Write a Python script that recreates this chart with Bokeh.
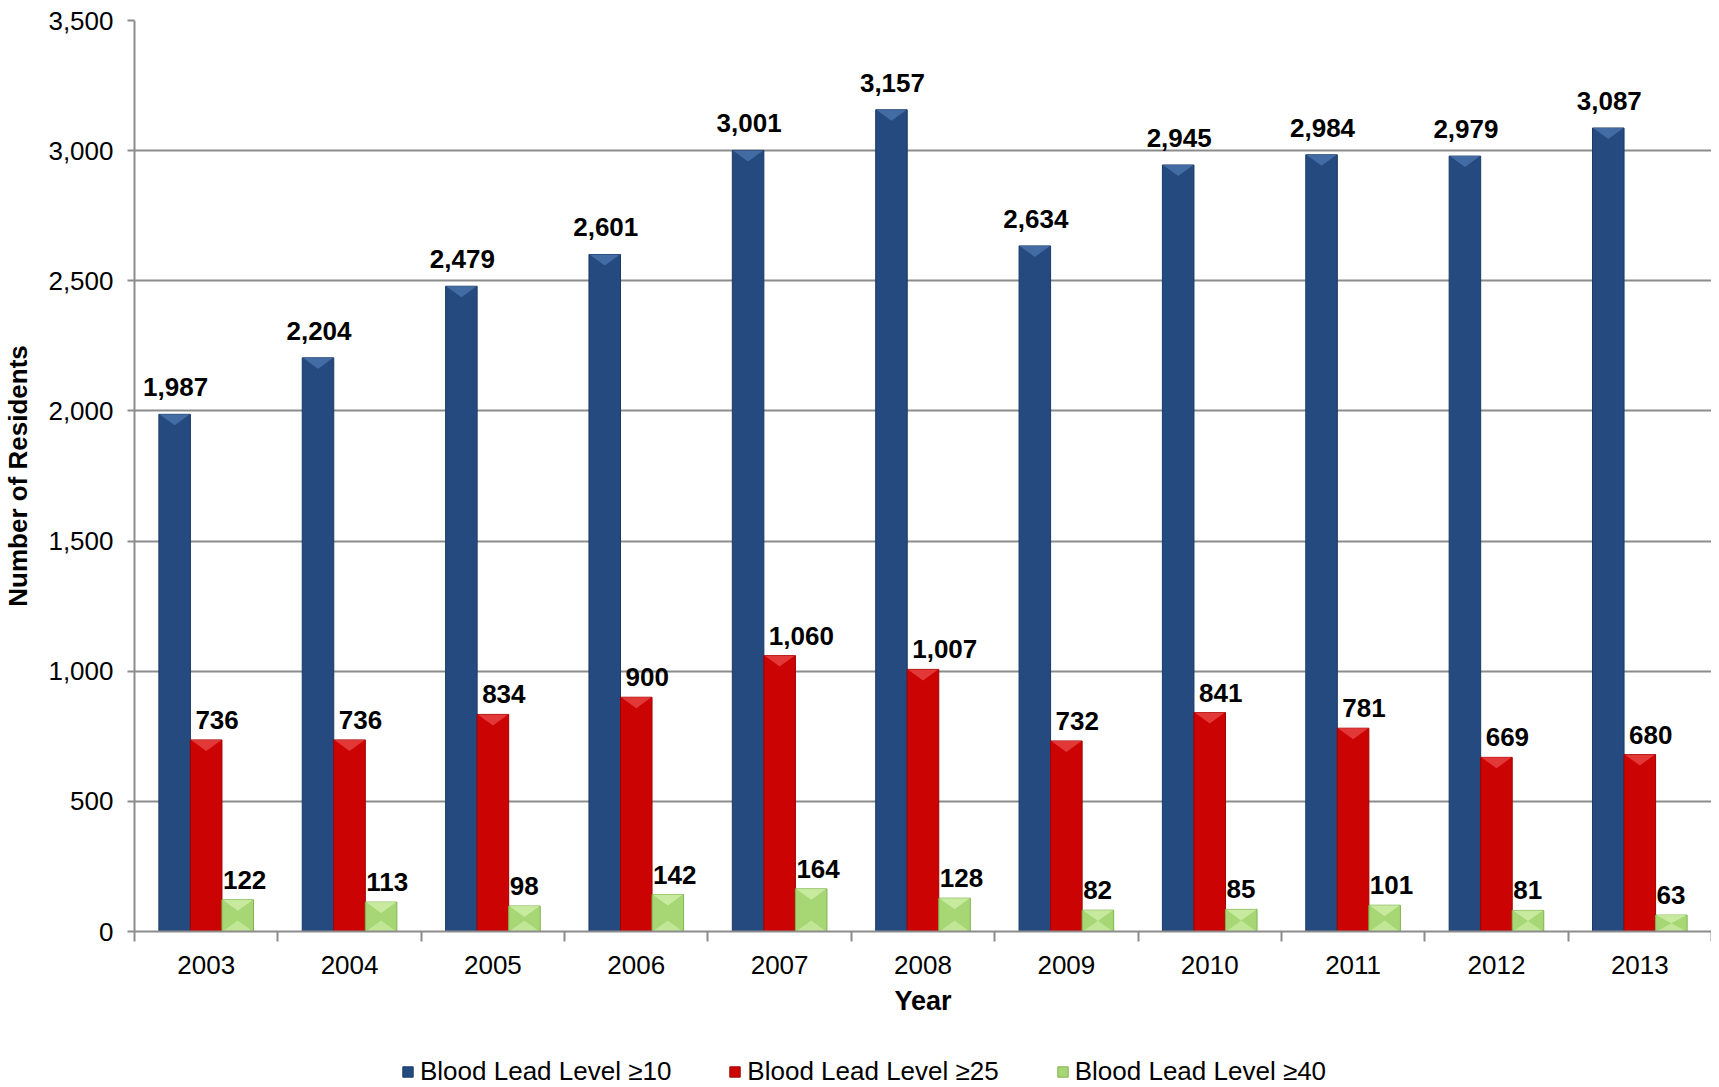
from bokeh.plotting import figure
from bokeh.layouts import column
from bokeh.models import (ColumnDataSource, Range1d, FixedTicker, NumeralTickFormatter,
                          Legend, LegendItem)
from bokeh.core.properties import value
from bokeh.embed import file_html
from bokeh.resources import INLINE

years = ["2003", "2004", "2005", "2006", "2007", "2008", "2009", "2010", "2011", "2012", "2013"]
bll10 = [1987, 2204, 2479, 2601, 3001, 3157, 2634, 2945, 2984, 2979, 3087]
bll25 = [736, 736, 834, 900, 1060, 1007, 732, 841, 781, 669, 680]
bll40 = [122, 113, 98, 142, 164, 128, 82, 85, 101, 81, 63]
series_names = ["Blood Lead Level \u226510", "Blood Lead Level \u226525", "Blood Lead Level \u226540"]
colors = ["#254A80", "#CC0303", "#A6D774"]
bevel_colors = ["#4F78B0", "#EA4B4B", "#D2F0AE"]
edge_colors = ["#1A3A66", "#A00000", "#7FB34E"]
y_ticks = [0, 500, 1000, 1500, 2000, 2500, 3000, 3500]

FONT = "Liberation Sans"
n = len(years)
centers = [i + 0.5 for i in range(n)]
bw = 0.22
offsets = [-bw, 0.0, bw]
label_align = ["center", "left", "left"]
label_dx = [1, 5, 1]
label_dy = [-27, -20, -20]

W = 1711
YMAX = 3500
TOP_B, BOT_B = 20, 90
H_MAIN = 1021
frame_h = H_MAIN - TOP_B - BOT_B
bevel_px = 11
bevel = bevel_px * YMAX / frame_h

p = figure(width=W, height=H_MAIN, output_backend="svg", toolbar_location=None,
           x_range=Range1d(0, n), y_range=Range1d(0, YMAX),
           min_border_left=133, min_border_top=TOP_B, min_border_right=0, min_border_bottom=BOT_B)
p.outline_line_color = None
p.background_fill_color = "white"
p.border_fill_color = "white"

for k, (vals, off, col, ec, bc) in enumerate(zip([bll10, bll25, bll40], offsets, colors,
                                                   edge_colors, bevel_colors)):
    xs = [c + off for c in centers]
    lx = [x - bw / 2 if label_align[k] == "left" else x for x in xs]
    src = ColumnDataSource(dict(x=xs, lx=lx, top=vals, lab=[f"{v:,}" for v in vals]))
    p.vbar(x="x", top="top", width=bw, bottom=0, source=src,
           fill_color=col, line_color=ec, line_width=1)
    # bevelled top face of each bar
    tri_x = [[x - bw / 2 + 0.004, x + bw / 2 - 0.004, x] for x in xs]
    tri_y = [[v, v, v - min(bevel, v / 2)] for v in vals]
    p.patches(xs=tri_x, ys=tri_y, fill_color=bc, fill_alpha=0.75, line_color=None)
    if k == 2:
        bot_y = [[0, 0, min(bevel, v / 2)] for v in vals]
        p.patches(xs=tri_x, ys=bot_y, fill_color=bc, fill_alpha=0.6, line_color=None)
    p.text(x="lx", y="top", text="lab", source=src, x_offset=label_dx[k], y_offset=label_dy[k],
           text_align=label_align[k], text_baseline="alphabetic",
           text_font=value(FONT), text_font_size="26px", text_font_style="bold",
           text_color="black")

# y axis
p.yaxis.ticker = FixedTicker(ticks=y_ticks)
p.yaxis.formatter = NumeralTickFormatter(format="0,0")
p.yaxis.axis_label = "Number of Residents"
p.yaxis.axis_label_text_font = FONT
p.yaxis.axis_label_text_font_style = "bold"
p.yaxis.axis_label_text_font_size = "26px"
p.yaxis.axis_label_text_color = "black"
p.yaxis.axis_label_standoff = 12
p.yaxis.major_label_text_font = FONT
p.yaxis.major_label_text_font_size = "26px"
p.yaxis.major_label_text_color = "black"
p.yaxis.major_label_standoff = 14
p.yaxis.major_tick_out = 7
p.yaxis.major_tick_in = 0
p.yaxis.minor_tick_line_color = None
p.yaxis.axis_line_color = "#8C8C8C"
p.yaxis.axis_line_width = 2
p.yaxis.major_tick_line_color = "#8C8C8C"
p.yaxis.major_tick_line_width = 2

# x axis
p.xaxis.ticker = FixedTicker(ticks=centers, minor_ticks=list(range(n + 1)))
p.xaxis.major_label_overrides = {c: y for c, y in zip(centers, years)}
p.xaxis.axis_label = "Year"
p.xaxis.axis_label_text_font = FONT
p.xaxis.axis_label_text_font_style = "bold"
p.xaxis.axis_label_text_font_size = "27px"
p.xaxis.axis_label_text_color = "black"
p.xaxis.axis_label_standoff = 9
p.xaxis.major_label_text_font = FONT
p.xaxis.major_label_text_font_size = "26px"
p.xaxis.major_label_text_color = "black"
p.xaxis.major_label_standoff = 14
p.xaxis.major_tick_line_color = None
p.xaxis.major_tick_out = 0
p.xaxis.major_tick_in = 0
p.xaxis.minor_tick_out = 10
p.xaxis.minor_tick_in = 0
p.xaxis.minor_tick_line_color = "#8C8C8C"
p.xaxis.minor_tick_line_width = 2
p.xaxis.axis_line_color = "#8C8C8C"
p.xaxis.axis_line_width = 2

p.xgrid.grid_line_color = None
p.ygrid.ticker = FixedTicker(ticks=y_ticks)
p.ygrid.grid_line_color = "#8C8C8C"
p.ygrid.grid_line_width = 2

# legend strip below the chart
lg = figure(width=W, height=66, output_backend="svg", toolbar_location=None,
            x_range=Range1d(0, 1), y_range=Range1d(0, 1),
            x_axis_type=None, y_axis_type=None, min_border=0)
lg.outline_line_color = None
lg.xgrid.grid_line_color = None
lg.ygrid.grid_line_color = None
dummy = []
for col, ec in zip(colors, edge_colors):
    # zero-size placeholder glyphs, only used to draw the legend swatches
    dummy.append(lg.vbar(x=[0.5], bottom=[0], top=[0], width=0,
                         fill_color=col, line_color=ec, line_width=1))
legend = Legend(items=[LegendItem(label=nm, renderers=[r]) for nm, r in zip(series_names, dummy)],
                orientation="horizontal", location=(267, 0),
                label_text_font=FONT, label_text_font_size="26px", label_text_color="black",
                glyph_width=13, glyph_height=13, label_standoff=6, spacing=57,
                padding=0, margin=0, border_line_color=None, background_fill_alpha=0)
lg.add_layout(legend, "center")

layout = column(p, lg, spacing=0)
open("out.html", "w").write(file_html(layout, INLINE))
